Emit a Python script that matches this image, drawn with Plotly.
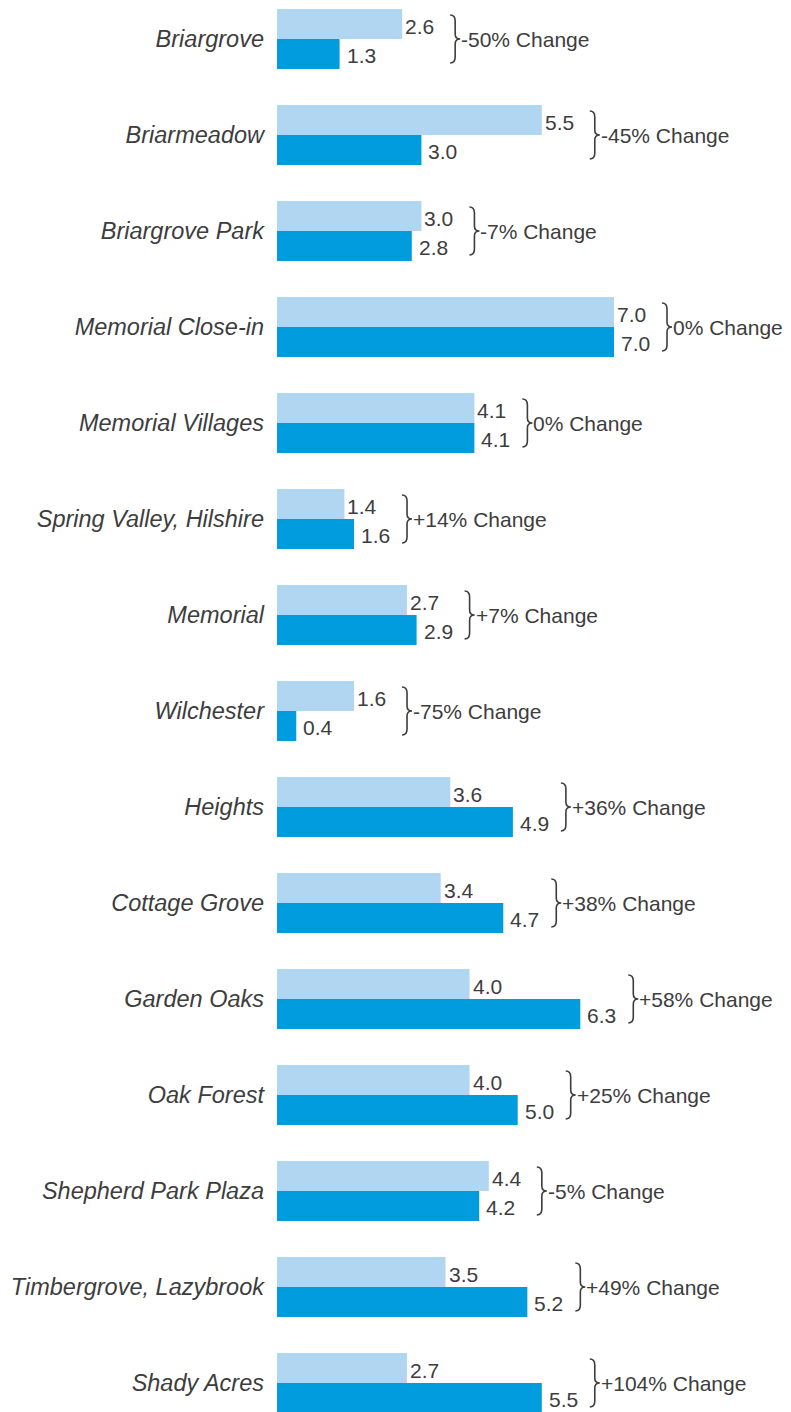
import plotly.graph_objects as go

categories = ["Briargrove", "Briarmeadow", "Briargrove Park", "Memorial Close-in",
              "Memorial Villages", "Spring Valley, Hilshire", "Memorial", "Wilchester",
              "Heights", "Cottage Grove", "Garden Oaks", "Oak Forest",
              "Shepherd Park Plaza", "Timbergrove, Lazybrook", "Shady Acres"]
before = [2.6, 5.5, 3.0, 7.0, 4.1, 1.4, 2.7, 1.6, 3.6, 3.4, 4.0, 4.0, 4.4, 3.5, 2.7]
after = [1.3, 3.0, 2.8, 7.0, 4.1, 1.6, 2.9, 0.4, 4.9, 4.7, 6.3, 5.0, 4.2, 5.2, 5.5]
changes = ["-50%", "-45%", "-7%", "0%", "0%", "+14%", "+7%", "-75%",
           "+36%", "+38%", "+58%", "+25%", "-5%", "+49%", "+104%"]

LIGHT = "#B0D6F2"
DARK = "#009CDE"
TXT = "#3d3d3d"
FONT = "Liberation Sans"

# page body has an 8px margin; compensate so the figure lands on the reference layout
BODY = 8
W, H = 791 - BODY, 1412 - BODY
ML = 277 - BODY
PX_PER_UNIT = 337 / 7.0
ROW = 96.0
FIRST_CENTER = 39.0 - BODY

idx = list(range(len(categories)))

fig = go.Figure()
fig.add_trace(go.Bar(y=idx, x=before, orientation="h", marker=dict(color=LIGHT, line=dict(width=0)),
                     hoverinfo="skip"))
fig.add_trace(go.Bar(y=idx, x=after, orientation="h", marker=dict(color=DARK, line=dict(width=0)),
                     hoverinfo="skip"))

off = 15.0 / ROW
annotations = []
shapes = []
for i in idx:
    annotations.append(dict(x=before[i], y=i - off, xref="x", yref="y", text=f"{before[i]:.1f}",
                            showarrow=False, xanchor="left", yanchor="middle", xshift=1, yshift=-2,
                            font=dict(family=FONT, size=21, color=TXT)))
    annotations.append(dict(x=after[i], y=i + off, xref="x", yref="y", text=f"{after[i]:.1f}",
                            showarrow=False, xanchor="left", yanchor="middle", xshift=5, yshift=-1,
                            font=dict(family=FONT, size=21, color=TXT)))
    m = max(before[i], after[i])
    bx = 48
    path = (f"M {bx},24 Q {bx+5},24 {bx+5},18 L {bx+5},5 Q {bx+5},0 {bx+10},0 "
            f"Q {bx+5},0 {bx+5},-5 L {bx+5},-18 Q {bx+5},-24 {bx},-24")
    shapes.append(dict(type="path", xref="x", yref="y", xsizemode="pixel", ysizemode="pixel",
                       xanchor=m, yanchor=i, path=path, line=dict(color=TXT, width=1.6)))
    annotations.append(dict(x=m, y=i, xref="x", yref="y", text=f"{changes[i]} Change",
                            showarrow=False, xanchor="left", yanchor="middle", xshift=bx + 9,
                            font=dict(family=FONT, size=21, color=TXT)))

x_max = (W - ML) / PX_PER_UNIT
y_top = -FIRST_CENTER / ROW
y_bot = (H - FIRST_CENTER) / ROW

fig.update_layout(
    width=W, height=H,
    margin=dict(l=ML, r=0, t=0, b=0, autoexpand=False),
    paper_bgcolor="white", plot_bgcolor="white",
    barmode="group", bargap=36 / ROW, bargroupgap=0,
    showlegend=False,
    annotations=annotations, shapes=shapes,
    xaxis=dict(range=[0, x_max], visible=False, fixedrange=True, automargin=False),
    yaxis=dict(range=[y_bot, y_top], tickmode="array", tickvals=idx, ticktext=categories,
               showgrid=False, zeroline=False, showline=False, ticks="", automargin=False,
               ticklabelstandoff=12,
               tickfont=dict(family=FONT, size=23.5, color=TXT, style="italic")),
)

fig.write_html("out.html")
